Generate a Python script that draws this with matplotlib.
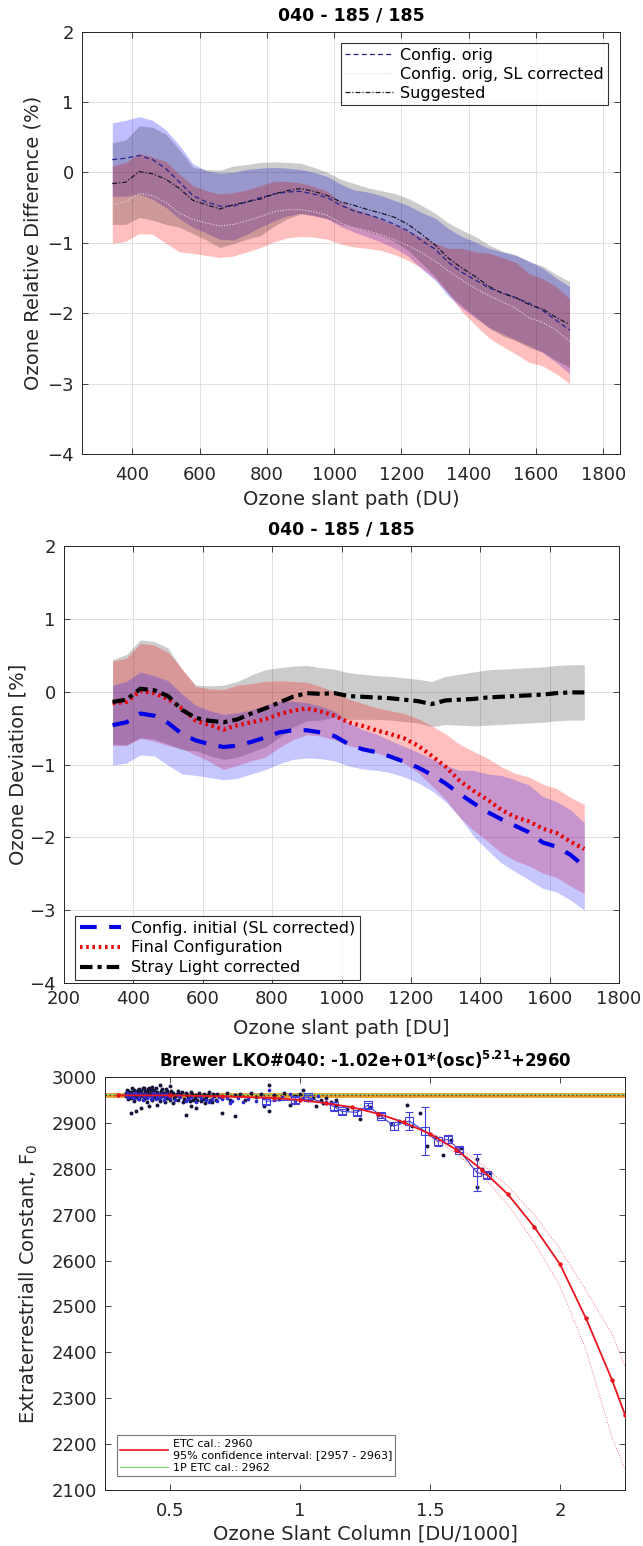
import numpy as np
import matplotlib
matplotlib.use("Agg")
import matplotlib.pyplot as plt
from matplotlib.lines import Line2D

plt.rcParams['font.family'] = ['DejaVu Sans']

# ---------------- data: panels 1 & 2 (ozone slant path, DU) ----------------
slant_du = [340, 380, 420, 460, 500, 540, 580, 620, 660, 700, 740, 780, 820, 860,
            900, 940, 980, 1020, 1060, 1100, 1140, 1180, 1220, 1260, 1300, 1340,
            1380, 1420, 1460, 1500, 1540, 1580, 1620, 1660, 1700]

orig_mean = [0.18, 0.20, 0.24, 0.18, 0.05, -0.14, -0.33, -0.42, -0.48, -0.48, -0.42,
             -0.36, -0.31, -0.28, -0.27, -0.31, -0.36, -0.47, -0.55, -0.60, -0.66,
             -0.74, -0.83, -0.97, -1.09, -1.28, -1.42, -1.53, -1.64, -1.71, -1.78,
             -1.86, -1.96, -2.10, -2.24]
orig_hw = [0.52, 0.54, 0.55, 0.56, 0.55, 0.52, 0.45, 0.44, 0.47, 0.48, 0.46, 0.42,
           0.38, 0.34, 0.31, 0.31, 0.30, 0.30, 0.30, 0.32, 0.33, 0.34, 0.36, 0.40,
           0.44, 0.48, 0.51, 0.54, 0.56, 0.58, 0.60, 0.60, 0.60, 0.60, 0.62]

final_mean = [-0.16, -0.14, 0.01, -0.02, -0.10, -0.23, -0.40, -0.46, -0.52, -0.46,
              -0.42, -0.38, -0.31, -0.26, -0.23, -0.27, -0.33, -0.42, -0.47, -0.53,
              -0.58, -0.64, -0.74, -0.88, -1.03, -1.22, -1.36, -1.48, -1.62, -1.72,
              -1.78, -1.88, -1.94, -2.06, -2.16]
final_hw = [0.58, 0.60, 0.65, 0.66, 0.64, 0.55, 0.47, 0.50, 0.55, 0.55, 0.53, 0.52,
            0.46, 0.40, 0.36, 0.34, 0.33, 0.32, 0.31, 0.31, 0.32, 0.34, 0.37, 0.41,
            0.45, 0.50, 0.54, 0.57, 0.59, 0.60, 0.61, 0.61, 0.61, 0.61, 0.61]

sl_mean = [-0.46, -0.42, -0.30, -0.33, -0.43, -0.58, -0.67, -0.72, -0.76, -0.74,
           -0.69, -0.63, -0.56, -0.53, -0.53, -0.56, -0.61, -0.72, -0.79, -0.83,
           -0.89, -0.96, -1.04, -1.14, -1.26, -1.40, -1.53, -1.65, -1.75, -1.84,
           -1.93, -2.07, -2.13, -2.24, -2.40]
sl_hw = [0.55, 0.56, 0.57, 0.55, 0.58, 0.55, 0.48, 0.46, 0.45, 0.45, 0.44, 0.44,
         0.43, 0.40, 0.38, 0.36, 0.34, 0.30, 0.27, 0.25, 0.22, 0.21, 0.21, 0.22,
         0.25, 0.32, 0.45, 0.52, 0.60, 0.63, 0.65, 0.63, 0.62, 0.62, 0.60]

stray_mean = [-0.14, -0.11, 0.04, 0.02, -0.06, -0.25, -0.36, -0.40, -0.42, -0.38,
              -0.30, -0.23, -0.15, -0.07, -0.02, -0.03, -0.02, -0.06, -0.07, -0.08,
              -0.09, -0.11, -0.13, -0.17, -0.12, -0.11, -0.10, -0.08, -0.07, -0.06,
              -0.05, -0.04, -0.02, -0.01, -0.01]
stray_hw = [0.58, 0.62, 0.67, 0.67, 0.66, 0.55, 0.45, 0.48, 0.51, 0.52, 0.53, 0.53,
            0.48, 0.42, 0.38, 0.36, 0.33, 0.32, 0.31, 0.30, 0.30, 0.30, 0.30, 0.31,
            0.33, 0.35, 0.37, 0.38, 0.38, 0.38, 0.38, 0.38, 0.38, 0.38, 0.38]

# ---------------- data: panel 3 (ETC fit) ----------------
black_x = [0.33, 0.33, 0.34, 0.34, 0.34, 0.35, 0.35, 0.35, 0.36, 0.36, 0.36, 0.37, 0.37, 0.37,
           0.38, 0.38, 0.38, 0.39, 0.39, 0.39, 0.40, 0.40, 0.40, 0.41, 0.41, 0.41, 0.42, 0.42,
           0.42, 0.43, 0.43, 0.43, 0.44, 0.44, 0.45, 0.45, 0.45, 0.46, 0.46, 0.46, 0.47, 0.47,
           0.48, 0.48, 0.49, 0.49, 0.50, 0.50, 0.50,
           0.335, 0.345, 0.355, 0.365, 0.375, 0.385, 0.395, 0.405, 0.415, 0.425, 0.435, 0.445,
           0.455, 0.465, 0.475, 0.485, 0.495, 0.505, 0.515, 0.525, 0.535, 0.545, 0.555, 0.565,
           0.575, 0.585, 0.595, 0.605, 0.615, 0.625, 0.635, 0.645, 0.655, 0.665, 0.675,
           0.51, 0.51, 0.52, 0.53, 0.53, 0.54, 0.55, 0.56, 0.56, 0.57, 0.58, 0.58, 0.59, 0.60,
           0.60, 0.61, 0.62, 0.63, 0.64, 0.65, 0.66, 0.67, 0.68, 0.70, 0.70, 0.72, 0.73, 0.75,
           0.75,
           0.77, 0.79, 0.81, 0.83, 0.85, 0.86, 0.88, 0.88, 0.90, 0.92, 0.94, 0.96, 0.98, 1.00,
           1.01, 1.03, 1.05, 1.06, 1.08, 1.09, 1.10, 1.12, 1.14, 1.14,
           1.18, 1.23, 1.27, 1.30, 1.35, 1.38, 1.41, 1.43, 1.46, 1.49, 1.52, 1.55, 1.58, 1.62,
           1.68, 1.68, 1.70, 1.73]
black_y = [2965, 2958, 2970, 2952, 2962, 2967, 2955, 2922, 2972, 2960, 2948, 2968, 2956, 2925,
           2974, 2963, 2951, 2969, 2958, 2932, 2975, 2964, 2953, 2970, 2960, 2945, 2977, 2966,
           2936, 2979, 2962, 2950, 2972, 2957, 2968, 2940, 2955, 2983, 2964, 2948, 2973, 2958,
           2966, 2945, 2970, 2955, 2981, 2962, 2950,
           2972, 2966, 2975, 2966, 2971, 2968, 2975, 2969, 2974, 2971, 2967, 2976,
           2962, 2970, 2966, 2974, 2964, 2970, 2955, 2964, 2958, 2967, 2953, 2960,
           2948, 2962, 2955, 2949, 2958, 2952, 2944, 2961, 2950, 2963, 2950,
           2943, 2966, 2958, 2970, 2950, 2962, 2946, 2918, 2965, 2955, 2936, 2968, 2950, 2932,
           2960, 2966, 2948, 2962, 2955, 2968, 2945, 2958, 2964, 2922, 2955, 2966, 2950, 2916,
           2960,
           2962, 2950, 2966, 2957, 2962, 2936, 2925, 2983, 2960, 2952, 2965, 2940, 2958, 2962,
           2972, 2950, 2955, 2936, 2950, 2943, 2955, 2946, 2940, 2950,
           2930, 2909, 2935, 2918, 2897, 2905, 2938, 2893, 2922, 2850, 2870, 2829, 2862, 2845,
           2821, 2761, 2799, 2790]

blue_x = [0.33, 0.34, 0.35, 0.36, 0.37, 0.38, 0.39, 0.40, 0.41, 0.42, 0.43, 0.44, 0.45, 0.46,
          0.47, 0.48, 0.49, 0.50, 0.52, 0.54, 0.56, 0.58, 0.60, 0.62, 0.64, 0.66, 0.68, 0.70,
          0.72, 0.74, 0.76, 0.78, 0.80, 0.83, 0.86, 0.88, 0.90, 0.93, 0.96, 0.98, 1.01, 1.04,
          1.07, 1.10,
          0.335, 0.345, 0.355, 0.365, 0.375, 0.385, 0.395, 0.405, 0.415, 0.425, 0.435, 0.445,
          0.455, 0.465, 0.475, 0.485, 0.495, 0.53, 0.57, 0.61, 0.65, 0.69, 0.73]
blue_y = [2960, 2956, 2962, 2954, 2963, 2957, 2964, 2958, 2955, 2961, 2956, 2963, 2959, 2954,
          2962, 2957, 2961, 2955, 2950, 2956, 2948, 2957, 2945, 2955, 2949, 2953, 2947, 2952,
          2955, 2948, 2954, 2945, 2952, 2948, 2955, 2972, 2950, 2956, 2962, 2948, 2955, 2950,
          2958, 2945,
          2965, 2961, 2957, 2965, 2952, 2962, 2950, 2963, 2958, 2953, 2965, 2951,
          2963, 2958, 2950, 2964, 2958, 2960, 2952, 2958, 2946, 2956, 2944]

bin_x = [0.87, 0.98, 1.03, 1.13, 1.16, 1.22, 1.26, 1.31, 1.36, 1.42, 1.48, 1.53, 1.57,
         1.61, 1.68, 1.72]
bin_y = [2947, 2950, 2956, 2936, 2925, 2923, 2938, 2916, 2893, 2904, 2882, 2860, 2864,
         2842, 2792, 2786]
bin_err = [5, 6, 5, 10, 6, 6, 5, 6, 8, 20, 53, 10, 8, 6, 40, 6]

fit_x = [0.30, 0.50, 0.70, 0.90, 1.00, 1.10, 1.20, 1.30, 1.40, 1.50, 1.60, 1.70, 1.80,
         1.90, 2.00, 2.10, 2.20, 2.25]
fit_y = [2960, 2960, 2958, 2954, 2950, 2943, 2934, 2920, 2901, 2876, 2842, 2798, 2744,
         2674, 2592, 2474, 2340, 2264]
ci_x = [1.50, 1.60, 1.70, 1.80, 1.90, 2.00, 2.10, 2.20, 2.25]
ci_hi = [2880, 2850, 2810, 2762, 2700, 2625, 2535, 2440, 2370]
ci_lo = [2870, 2834, 2785, 2722, 2640, 2545, 2405, 2215, 2145]
etc_cal = 2960
etc_1p = 2962

# ---------------- figure ----------------
W, H = 643, 1546
fig = plt.figure(figsize=(W / 100, H / 100), dpi=100)

def rect(l, t, r, b):
    return [l / W, 1 - b / H, (r - l) / W, (b - t) / H]

AX_COL = '#262626'

def style(ax, grid=True, xpad=9, ypad=6):
    ax.tick_params(direction='in', top=True, right=True, length=4, width=0.6,
                   colors=AX_COL, labelsize=13)
    ax.tick_params(axis='x', pad=xpad)
    ax.tick_params(axis='y', pad=ypad)
    for s in ax.spines.values():
        s.set_color(AX_COL)
        s.set_linewidth(0.7)
    if grid:
        ax.grid(True, color='#dcdcdc', lw=0.6)
        ax.set_axisbelow(True)

x = np.array(slant_du)

# ---- Panel 1 ----
ax1 = fig.add_axes(rect(82, 31.5, 620, 454))
style(ax1)
for m, hw, c, a in [(orig_mean, orig_hw, 'blue', 0.25), (sl_mean, sl_hw, 'red', 0.25),
                    (final_mean, final_hw, 'black', 0.2)]:
    m = np.array(m); hw = np.array(hw)
    ax1.fill_between(x, m - hw, m + hw, color=c, alpha=a, lw=0)
ax1.plot(x, orig_mean, ls=(0, (4, 2.5)), color='#25258f', lw=0.9, label='Config. orig')
ax1.plot(x, sl_mean, ls=(0, (1, 1.5)), color='#ead8e2', lw=0.8,
         label='Config. orig, SL corrected')
ax1.plot(x, final_mean, ls=(0, (4, 1.5, 1, 1.5)), color='#1a1a2e', lw=0.9, label='Suggested')
ax1.set_xlim(250, 1850)
ax1.set_ylim(-4, 2)
ax1.set_xticks(range(400, 1801, 200))
ax1.set_yticks(range(-4, 3))
ax1.set_title('040 - 185 / 185', fontsize=12.5, fontweight='bold', pad=8, color='black')
ax1.set_xlabel('Ozone slant path (DU)', fontsize=14, labelpad=4, color=AX_COL)
ax1.set_ylabel('Ozone Relative Difference (%)', fontsize=14, labelpad=3, color=AX_COL)
leg1 = ax1.legend(loc='upper right', bbox_to_anchor=(0.978, 0.973), borderaxespad=0,
                  fontsize=11.5, frameon=True, fancybox=False, handlelength=3,
                  labelspacing=0.25, borderpad=0.3, handletextpad=0.4)
leg1.get_frame().set_edgecolor('black'); leg1.get_frame().set_linewidth(0.8)

# ---- Panel 2 ----
ax2 = fig.add_axes(rect(64, 546, 619, 983))
style(ax2, xpad=5)
for m, hw, c, a in [(stray_mean, stray_hw, 'black', 0.2), (final_mean, final_hw, 'red', 0.25),
                    (sl_mean, sl_hw, 'blue', 0.22)]:
    m = np.array(m); hw = np.array(hw)
    ax2.fill_between(x, m - hw, m + hw, color=c, alpha=a, lw=0)
ax2.plot(x, sl_mean, ls=(0, (4, 3)), color='#0000e6', lw=3,
         label='Config. initial (SL corrected)')
ax2.plot(x, final_mean, ls=(0, (0.6, 0.9)), color='#e60000', lw=3, label='Final Configuration')
ax2.plot(x, stray_mean, ls=(0, (3, 1.2, 1, 1.2)), color='black', lw=3,
         label='Stray Light corrected')
ax2.set_xlim(200, 1800)
ax2.set_ylim(-4, 2)
ax2.set_xticks(range(200, 1801, 200))
ax2.set_yticks(range(-4, 3))
ax2.set_title('040 - 185 / 185', fontsize=12.5, fontweight='bold', pad=8, color='black')
ax2.set_xlabel('Ozone slant path [DU]', fontsize=14, labelpad=8, color=AX_COL)
ax2.set_ylabel('Ozone Deviation [%]', fontsize=14, labelpad=1, color=AX_COL)
leg2 = ax2.legend(loc='lower left', bbox_to_anchor=(0.02, 0.007), borderaxespad=0,
                  fontsize=11.5, frameon=True, fancybox=False, handlelength=2.6,
                  labelspacing=0.3, borderpad=0.3, handletextpad=0.6)
leg2.get_frame().set_edgecolor('black'); leg2.get_frame().set_linewidth(0.8)

# ---- Panel 3 ----
ax3 = fig.add_axes(rect(105, 1077, 625, 1490))
style(ax3, grid=False, xpad=9, ypad=6)
ax3.axhline(etc_cal, color='#e8a02e', lw=3.5, zorder=2)
ax3.axhline(etc_1p, color='#7ccf6a', lw=0.8, zorder=2)
ax3.axhline(etc_cal, color='#7a2d00', lw=1, ls=(0, (1, 2)), zorder=2)
ax3.scatter(black_x, black_y, s=8, color='#14143c', zorder=3, linewidths=0)
ax3.scatter(blue_x, blue_y, s=7, color='#2a2ad0', zorder=3, linewidths=0)
ax3.errorbar(bin_x, bin_y, yerr=bin_err, fmt='s', mfc='none', mec='#4040e0', ms=5.5,
             mew=0.8, ecolor='#4040e0', elinewidth=0.8, capsize=3, color='#4040e0',
             ls='-', lw=0.8, zorder=4)
ax3.plot(fit_x, fit_y, color='#e8141e', lw=1.3, marker='o', ms=2.2, zorder=5)
ax3.plot(ci_x, ci_hi, color='#ee4a50', lw=0.6, ls=(0, (1, 2)), zorder=5)
ax3.plot(ci_x, ci_lo, color='#ee4a50', lw=0.6, ls=(0, (1, 2)), zorder=5)
ax3.set_xlim(0.25, 2.25)
ax3.set_ylim(2100, 3000)
ax3.set_xticks([0.5, 1, 1.5, 2])
ax3.set_xticklabels(['0.5', '1', '1.5', '2'])
ax3.set_yticks(range(2100, 3001, 100))
ax3.set_title(r'Brewer LKO#040: -1.02e+01*(osc)$^{\mathbf{5.21}}$+2960', fontsize=12,
              fontweight='bold', pad=7, color='black')
ax3.set_xlabel('Ozone Slant Column [DU/1000]', fontsize=14, labelpad=3, color=AX_COL)
ax3.set_ylabel(r'Extraterrestriall Constant, F$_0$', fontsize=14, labelpad=8, color=AX_COL)
h3 = [Line2D([], [], color='#e8141e', lw=1.2), Line2D([], [], color='#7ccf6a', lw=0.8)]
leg3 = ax3.legend(h3, ['ETC cal.: %d\n95%% confidence interval: [2957 - 2963]' % etc_cal,
                       '1P ETC cal.: %d' % etc_1p],
                  loc='lower left', bbox_to_anchor=(0.023, 0.034), borderaxespad=0,
                  fontsize=8, frameon=True, fancybox=False, handlelength=4.3,
                  labelspacing=0.2, borderpad=0.3, handletextpad=0.4)
leg3.get_frame().set_edgecolor('#555555'); leg3.get_frame().set_linewidth(0.8)

fig.savefig('out.png', dpi=100)
